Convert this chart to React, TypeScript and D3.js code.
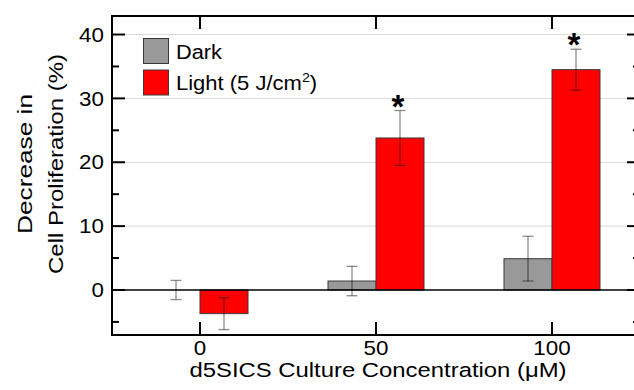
import React, { useEffect, useRef } from 'react';
import * as d3 from 'd3';

const concentrations = ['0', '50', '100'];
const darkValues = [0, 1.4, 4.9];
const darkErrors = [1.5, 2.3, 3.5];
const lightValues = [-3.7, 23.8, 34.5];
const lightErrors = [2.5, 4.3, 3.2];
const significant = [false, true, true];
const majorTicks = [0, 10, 20, 30, 40];
const minorTicks = [-5, 5, 15, 25, 35];

const seriesList = [
  { name: 'Dark', values: darkValues, errors: darkErrors, color: '#999999' },
  { name: 'Light', values: lightValues, errors: lightErrors, color: '#ff0000' },
];

export default function App() {
  const svgRef = useRef<SVGSVGElement>(null);
  const width = 634;
  const height = 390;

  useEffect(() => {
    if (!svgRef.current) return;
    const svg = d3.select(svgRef.current);
    svg.selectAll('*').remove();

    const left = 112, right = 640, top = 16, bottom = 335;
    const font = '"Liberation Sans", Arial, sans-serif';

    const x = d3.scalePoint<string>().domain(concentrations).range([left, right]).padding(0.5);
    const y = d3.scaleLinear().domain([-7.05, 42.9]).range([bottom, top]);
    const barW = 48;

    // gridlines
    svg.append('g').selectAll('line')
      .data(majorTicks.filter(t => t !== 0))
      .enter().append('line')
      .attr('x1', left).attr('x2', right)
      .attr('y1', d => y(d)).attr('y2', d => y(d))
      .attr('stroke', '#dcdcdc').attr('stroke-width', 1);

    // bars
    seriesList.forEach((s, si) => {
      const g = svg.append('g');
      g.selectAll('rect')
        .data(s.values)
        .enter().append('rect')
        .attr('x', (_, i) => (x(concentrations[i]) as number) + (si === 0 ? -barW : 0))
        .attr('width', barW)
        .attr('y', d => y(Math.max(0, d)))
        .attr('height', d => Math.abs(y(d) - y(0)))
        .attr('fill', s.color)
        .attr('stroke', '#3a3a3a')
        .attr('stroke-width', 1);
    });

    // zero line
    svg.append('line')
      .attr('x1', left).attr('x2', right)
      .attr('y1', y(0)).attr('y2', y(0))
      .attr('stroke', '#000').attr('stroke-width', 1.5);

    // error bars
    seriesList.forEach((s, si) => {
      s.values.forEach((v, i) => {
        const cx = (x(concentrations[i]) as number) + (si === 0 ? -barW / 2 : barW / 2);
        const e = s.errors[i];
        const g = svg.append('g')
          .attr('stroke', 'rgba(0,0,0,0.45)')
          .attr('stroke-width', 1.3);
        g.append('line').attr('x1', cx).attr('x2', cx).attr('y1', y(v + e)).attr('y2', y(v - e));
        g.append('line').attr('x1', cx - 5.5).attr('x2', cx + 5.5).attr('y1', y(v + e)).attr('y2', y(v + e));
        g.append('line').attr('x1', cx - 5.5).attr('x2', cx + 5.5).attr('y1', y(v - e)).attr('y2', y(v - e));
      });
    });

    // significance stars
    svg.append('g').selectAll('text')
      .data(lightValues.map((v, i) => ({ v, e: lightErrors[i], i })).filter(d => significant[d.i]))
      .enter().append('text')
      .attr('x', d => (x(concentrations[d.i]) as number) + barW / 2 - 2)
      .attr('y', d => y(d.v + d.e) + 7)
      .attr('text-anchor', 'middle')
      .style('font-family', font)
      .style('font-size', '33px')
      .style('font-weight', 'bold')
      .text('*');

    // frame
    svg.append('rect')
      .attr('x', left).attr('y', top)
      .attr('width', right - left).attr('height', bottom - top)
      .attr('fill', 'none').attr('stroke', '#000').attr('stroke-width', 2);

    const ticks = svg.append('g').attr('stroke', '#000').attr('stroke-width', 2);
    majorTicks.forEach(t => {
      ticks.append('line').attr('x1', left).attr('x2', left + 13).attr('y1', y(t)).attr('y2', y(t));
      ticks.append('line').attr('x1', right).attr('x2', right - 13).attr('y1', y(t)).attr('y2', y(t));
    });
    minorTicks.forEach(t => {
      ticks.append('line').attr('x1', left).attr('x2', left + 7).attr('y1', y(t)).attr('y2', y(t));
      ticks.append('line').attr('x1', right).attr('x2', right - 7).attr('y1', y(t)).attr('y2', y(t));
    });
    concentrations.forEach(c => {
      const cx = x(c) as number;
      ticks.append('line').attr('x1', cx).attr('x2', cx).attr('y1', bottom).attr('y2', bottom - 13);
      ticks.append('line').attr('x1', cx).attr('x2', cx).attr('y1', top).attr('y2', top + 13);
    });

    // tick labels (slightly wide, like the reference)
    svg.append('g').selectAll('text')
      .data(majorTicks)
      .enter().append('text')
      .attr('transform', d => `translate(104,${y(d)}) scale(1.12,1)`)
      .attr('dy', '0.36em')
      .attr('text-anchor', 'end')
      .style('font-family', font)
      .style('font-size', '20px')
      .text(d => d);

    svg.append('g').selectAll('text')
      .data(concentrations)
      .enter().append('text')
      .attr('transform', d => `translate(${x(d)},355) scale(1.12,1)`)
      .attr('text-anchor', 'middle')
      .style('font-family', font)
      .style('font-size', '20px')
      .text(d => d);

    // axis titles
    svg.append('text')
      .attr('x', 378).attr('y', 377)
      .attr('text-anchor', 'middle')
      .attr('textLength', 377)
      .attr('lengthAdjust', 'spacingAndGlyphs')
      .style('font-family', font)
      .style('font-size', '20.5px')
      .text('d5SICS Culture Concentration (μM)');

    const yTitle = svg.append('g').attr('transform', 'translate(0,164) rotate(-90)');
    yTitle.append('text')
      .attr('x', 0).attr('y', 32)
      .attr('text-anchor', 'middle')
      .attr('textLength', 140)
      .attr('lengthAdjust', 'spacingAndGlyphs')
      .style('font-family', font).style('font-size', '20.5px')
      .text('Decrease in');
    yTitle.append('text')
      .attr('x', 0).attr('y', 63)
      .attr('text-anchor', 'middle')
      .attr('textLength', 220)
      .attr('lengthAdjust', 'spacingAndGlyphs')
      .style('font-family', font).style('font-size', '20.5px')
      .text('Cell Proliferation (%)');

    // legend
    const legend = svg.append('g');
    seriesList.forEach((s, i) => {
      legend.append('rect')
        .attr('x', 143.5).attr('y', 38.5 + i * 31.5)
        .attr('width', 25).attr('height', 25)
        .attr('fill', s.color).attr('stroke', '#3a3a3a').attr('stroke-width', 1);
    });
    legend.append('text')
      .attr('x', 176).attr('y', 58.5)
      .attr('textLength', 46)
      .attr('lengthAdjust', 'spacingAndGlyphs')
      .style('font-family', font).style('font-size', '20px')
      .text('Dark');
    const lt = legend.append('text')
      .attr('transform', 'translate(176,90) scale(1.1,1)')
      .style('font-family', font).style('font-size', '20px');
    lt.append('tspan').text('Light (5 J/cm');
    lt.append('tspan').attr('dy', -8).style('font-size', '13px').text('2');
    lt.append('tspan').attr('dy', 8).text(')');
  }, []);

  return (
    <svg
      ref={svgRef}
      width={width}
      height={height}
      viewBox={`0 0 ${width} ${height}`}
      style={{ position: 'absolute', left: 0, top: 0, background: '#fff' }}
    />
  );
}
